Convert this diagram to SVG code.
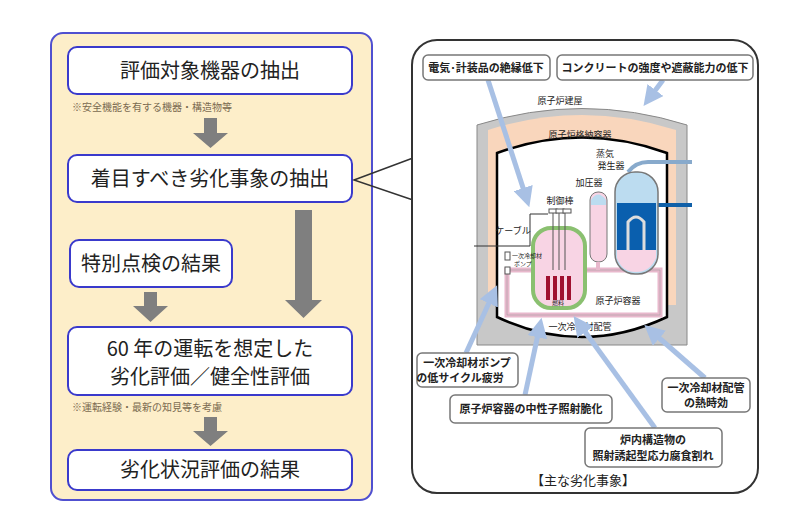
<svg xmlns="http://www.w3.org/2000/svg" width="800" height="524" viewBox="0 0 800 524">
<defs>
<style>
text{font-family:"Noto Sans CJK JP","Noto Sans",sans-serif;fill:#222}
.box{fill:#fff;stroke:#3a3acc;stroke-width:2}
.t{font-size:20px;text-anchor:middle}
.note{font-size:10px;fill:#7a6a50}
.cb{fill:#fff;stroke:#777;stroke-width:1.5}
.ct{font-size:11px;text-anchor:middle;font-weight:bold}
.lbl{font-size:9px;text-anchor:middle}
.ba{stroke:#a8c0e4;stroke-width:5;fill:none}
.gray{fill:#7f7f7f}
</style>
<marker id="ah" markerWidth="4" markerHeight="4" refX="2.5" refY="2" orient="auto"><path d="M0,0L4,2L0,4z" fill="#a8c0e4"/></marker>
</defs>
<rect width="800" height="524" fill="#fff"/>
<g id="leftpanel">
<rect x="51" y="33" width="321" height="467" rx="12" fill="#fdeec9" stroke="#5050d0" stroke-width="2"/>
</g>
<g id="n1"><rect class="box" x="68" y="47" width="284" height="47" rx="9"/><text class="t" x="210" y="78">評価対象機器の抽出</text></g>
<text class="note" x="72" y="111">※安全機能を有する機器・構造物等</text>
<g id="n2"><rect class="box" x="68" y="155" width="284" height="47" rx="9"/><text class="t" x="210" y="186">着目すべき劣化事象の抽出</text></g>
<g id="n3"><rect class="box" x="70" y="240" width="162" height="47" rx="9"/><text class="t" x="151" y="271">特別点検の結果</text></g>
<g id="n4"><rect class="box" x="68" y="327" width="284" height="68" rx="9"/><text class="t" x="210" y="356">60 年の運転を想定した</text><text class="t" x="210" y="384">劣化評価／健全性評価</text></g>
<text class="note" x="72" y="411">※運転経験・最新の知見等を考慮</text>
<g id="n5"><rect class="box" x="68" y="450" width="284" height="40" rx="9"/><text class="t" x="210" y="477">劣化状況評価の結果</text></g>
<g id="connectors">
<path class="gray" d="M204,118H217V133H228L210.5,148L193,133H204z"/>
<path class="gray" d="M144,292H157V306H168L150.5,322L133,306H144z"/>
<path class="gray" d="M295,210H312V300H322L303.5,318L285,300H295z"/>
<path class="gray" d="M204,417H217V431H228L210.5,446L193,431H204z"/>
<path d="M413,158L354,180L413,200" fill="none" stroke="#333" stroke-width="1.5"/>
</g>
<g id="rightpanel">
<rect x="412" y="40" width="346" height="453" rx="25" fill="#fff" stroke="#333" stroke-width="2"/>
<rect x="413" y="158" width="3" height="42" fill="#fff"/>
<path d="M477,125Q582,92 687,125V345H477z" fill="#c8c8c8" stroke="#888"/>
<path d="M488,130Q582,100 676,130V305H488z" fill="#f9d6bc"/>
<path d="M497,153Q582,122 667,153V317Q582,357 497,317z" fill="#fff" stroke="#000" stroke-width="2.5"/>
<text class="lbl" x="560" y="104">原子炉建屋</text>
<text class="lbl" x="580" y="138">原子炉格納容器</text>
<path d="M507,270H660V315H507z" fill="none" stroke="#e8b8cc" stroke-width="5"/>
<path d="M507,270H660V315H507z" fill="none" stroke="#999" stroke-width="0.5"/>
<path d="M628,172Q636,162 648,162H692" fill="none" stroke="#88aacc" stroke-width="4"/>
<path d="M630,205H692" stroke="#1060a8" stroke-width="4"/>
<rect x="615" y="172" width="43" height="102" rx="20" fill="#bcdcf0" stroke="#777" stroke-width="1.5"/>
<rect x="617" y="203" width="39" height="47" fill="#0a5fae"/>
<path d="M617,250H656V258Q650,272 636,272Q622,272 617,258z" fill="#f8d4e4"/>
<path d="M628,250V222Q636,212 644,222V250" fill="none" stroke="#ddd" stroke-width="3"/>
<rect x="590" y="192" width="17" height="70" rx="8" fill="#f8d4e4" stroke="#777"/>
<path d="M591,200Q598,189 606,200V205H591z" fill="#bcdcf0"/>
<path d="M598,262V270" stroke="#e8b8cc" stroke-width="4"/>
<rect x="533" y="228" width="52" height="80" rx="18" fill="#f8d4e4" stroke="#8ac070" stroke-width="4"/>
<g stroke="#555" stroke-width="1"><path d="M553,212V270M559,212V270M565,212V270"/></g>
<g fill="#fff" stroke="#555"><rect x="549" y="209" width="8" height="4"/><rect x="556" y="209" width="8" height="4"/><rect x="563" y="209" width="8" height="4"/></g>
<g fill="#a01030"><rect x="546" y="276" width="4" height="24"/><rect x="553" y="276" width="4" height="24"/><rect x="560" y="276" width="4" height="24"/><rect x="567" y="276" width="4" height="24"/></g>
<path d="M474,246H530V214H548" fill="none" stroke="#333"/>
<text class="lbl" x="513" y="234">ケーブル</text>
<rect x="505" y="252" width="5" height="8" fill="#fff" stroke="#555"/>
<rect x="505" y="267" width="5" height="7" fill="#fff" stroke="#555"/>
<text style="font-size:6px" x="512" y="258">一次冷却材</text>
<text style="font-size:6px" x="514" y="266">ポンプ</text>
<text class="lbl" x="605" y="157">蒸気</text>
<text class="lbl" x="611" y="169">発生器</text>
<text class="lbl" x="589" y="186">加圧器</text>
<text class="lbl" x="560" y="204">制御棒</text>
<text style="font-size:6px" x="552" y="305">燃料</text>
<text class="lbl" x="618" y="304">原子炉容器</text>
<text class="lbl" x="580" y="330">一次冷却材配管</text>
<path class="ba" marker-end="url(#ah)" d="M488,80L527,200"/>
<path class="ba" marker-end="url(#ah)" d="M663,80L648,100"/>
<path class="ba" marker-end="url(#ah)" d="M466,353L494,292"/>
<path class="ba" marker-end="url(#ah)" d="M525,395L540,325"/>
<path class="ba" marker-end="url(#ah)" d="M655,428L578,322"/>
<path class="ba" marker-end="url(#ah)" d="M705,378L650,330"/>
<rect class="cb" x="423" y="55" width="127" height="25" rx="5"/><text class="ct" x="486" y="72">電気･計装品の絶縁低下</text>
<rect class="cb" x="557" y="55" width="196" height="25" rx="5"/><text class="ct" x="655" y="72">コンクリートの強度や遮蔽能力の低下</text>
<rect class="cb" x="417" y="353" width="101" height="34" rx="5"/><text class="ct" x="467" y="367">一次冷却材ポンプ</text><text class="ct" x="460" y="382">の低サイクル疲労</text>
<rect class="cb" x="450" y="395" width="162" height="28" rx="5"/><text class="ct" x="531" y="413">原子炉容器の中性子照射脆化</text>
<rect class="cb" x="585" y="428" width="137" height="39" rx="5"/><text class="ct" x="653" y="444">炉内構造物の</text><text class="ct" x="653" y="460">照射誘起型応力腐食割れ</text>
<rect class="cb" x="662" y="378" width="88" height="34" rx="5"/><text class="ct" x="706" y="392">一次冷却材配管</text><text class="ct" x="706" y="407">の熱時効</text>
<text x="583" y="485" style="font-size:13px;text-anchor:middle;font-family:'Noto Sans CJK JP',serif">【主な劣化事象】</text>
</g>
</svg>
